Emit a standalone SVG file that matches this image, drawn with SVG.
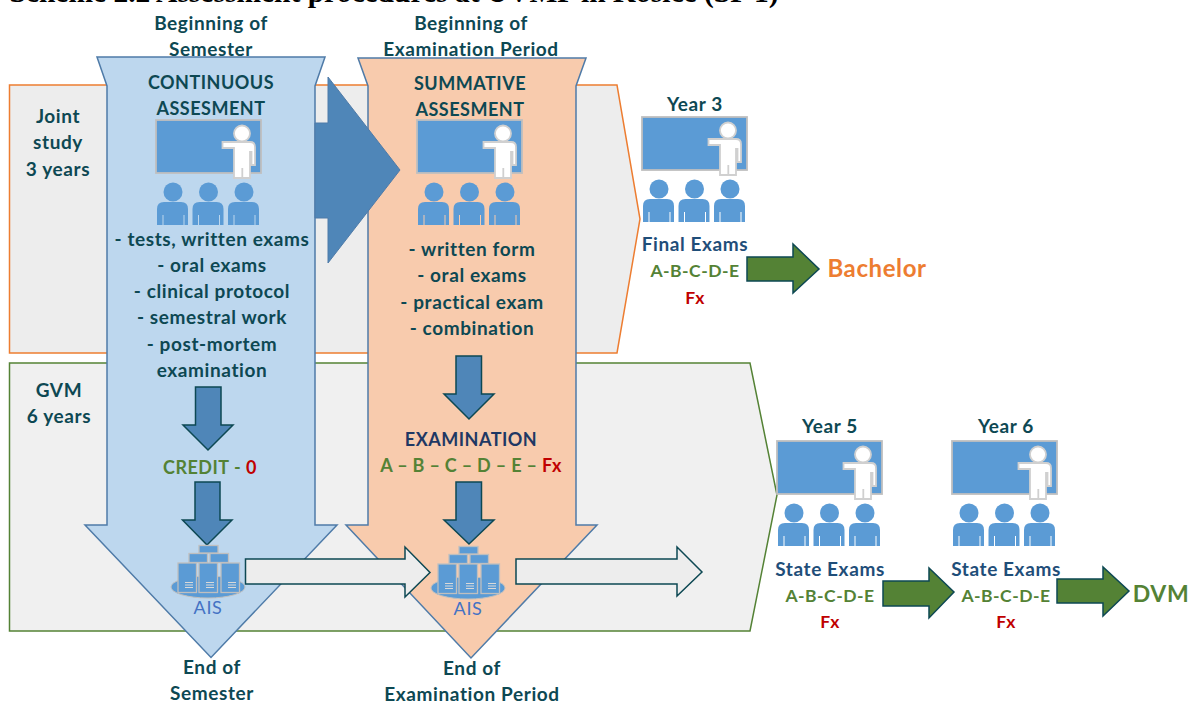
<svg xmlns="http://www.w3.org/2000/svg" xmlns:xlink="http://www.w3.org/1999/xlink" width="1193" height="704" viewBox="0 0 1193 704">
<style>
text{font-family:"Lato","Liberation Sans",sans-serif;font-weight:700;font-size:19px;text-anchor:middle;fill:#0d4853;letter-spacing:.6px}
.navy{fill:#1f4e79}.deep{fill:#1f3864}.green{fill:#548235}.red{fill:#c00000}
.sm{font-size:17.5px;letter-spacing:.5px}
.up{font-size:18px;letter-spacing:.5px}
.ais{font-weight:400;fill:#4472c4;font-size:18px}
.down{fill:#4f86b8;stroke:#0d4853;stroke-width:1.5}
.go{fill:#548235;stroke:#0d4853;stroke-width:1.5}
.white{fill:#ededed;stroke:#0d4853;stroke-width:1.5}
.srv{fill:#5b9bd5;stroke:#bfbfbf;stroke-width:1.3}
.bars{stroke:#d9d9d9;stroke-width:1}
</style>
<defs>
<g id="teach">
<rect x="156" y="120" width="105" height="53" fill="#5b9bd5" stroke="#bfbfbf" stroke-width="1.8"/>
<circle cx="242" cy="133.500" r="8" fill="#fff" stroke="#d0d0d0" stroke-width="1.8"/>
<path d="M222.500,142 H250 Q255,142 255,147 V165 H251.500 V152 H250 V178 H234 V148 H222.500 Z" fill="#fff" stroke="#d0d0d0" stroke-width="1.8"/>
<path d="M242.300,168 V178" stroke="#d0d0d0" stroke-width="1.8"/>
<g fill="#5b9bd5">
<g id="stu"><circle cx="173" cy="192" r="9.500"/><path d="M157,225 V209 Q157,202 164,202 H181 Q188,202 188,209 V225 H184.500 V215 H183.500 V225 H163.500 V215 H162.500 V225 Z"/></g>
<use xlink:href="#stu" href="#stu" x="35.500"/>
<use xlink:href="#stu" href="#stu" x="71"/>
</g>
</g>
<g id="server">
<ellipse cx="208" cy="587" rx="37" ry="11" fill="#5b9bd5" stroke="#bfbfbf"/>
<rect x="199" y="545.500" width="19" height="7.500" class="srv"/>
<rect x="189" y="553.500" width="18.500" height="9" class="srv"/>
<rect x="210" y="553.500" width="18.500" height="9" class="srv"/>
<g id="box"><rect x="178" y="563" width="18.500" height="29.500" class="srv"/><path d="M185,582.500H193M185,585H193M185,587.500H193" class="bars"/></g>
<use xlink:href="#box" href="#box" x="21"/>
<use xlink:href="#box" href="#box" x="43"/>
</g>
</defs>

<text x="394" y="2" style="font-family:'Liberation Serif',serif;font-size:29.500px;letter-spacing:0;fill:#000">Scheme 2.2 Assessment procedures at UVMP in Košice (SP 1)</text>

<g id="joint-study">
<path d="M9.500,85 H617 L640,219 L617,353 H9.500 Z" fill="#ededed" stroke="#ed7d31" stroke-width="1.500"/>
<text x="58" y="123">Joint</text><text x="58" y="149">study</text><text x="58" y="176">3 years</text>
</g>
<g id="gvm">
<path d="M9.500,363 H750 L777,495 L750,631 H9.500 Z" fill="#f0f0f0" stroke="#548235" stroke-width="1.500"/>
<text x="59" y="397">GVM</text><text x="59" y="423">6 years</text>
</g>

<g id="continuous">
<path d="M97,57 H325 L315,86 V525 H337 L211,657.500 L85,525 H107 V86 Z" fill="#bdd7ee" stroke="#4f7ba8" stroke-width="1.500"/>
<text x="211" y="30">Beginning of</text><text x="211" y="56">Semester</text>
<text x="211" y="89" class="up">CONTINUOUS</text><text x="211" y="115" class="up">ASSESMENT</text>
<use xlink:href="#teach" href="#teach"/>
<text x="212" y="246">- tests, written exams</text>
<text x="212" y="272">- oral exams</text>
<text x="212" y="298">- clinical protocol</text>
<text x="212" y="324">- semestral work</text>
<text x="212" y="351">- post-mortem</text>
<text x="212" y="377">examination</text>
<text x="210" y="474" class="up"><tspan class="green">CREDIT - </tspan><tspan class="red">0</tspan></text>
<text x="212" y="674">End of</text><text x="212" y="700">Semester</text>
</g>

<g id="summative">
<path d="M358,58 H586 L576,86 V525 H597 L471,658 L346,525 H368 V86 Z" fill="#f8cbad" stroke="#4f7ba8" stroke-width="1.500"/>
<text x="471" y="30">Beginning of</text><text x="471" y="56">Examination Period</text>
<text x="470" y="90" class="up">SUMMATIVE</text><text x="470" y="116" class="up">ASSESMENT</text>
<use xlink:href="#teach" href="#teach" x="261"/>
<text x="472" y="256">- written form</text>
<text x="472" y="282">- oral exams</text>
<text x="472" y="309">- practical exam</text>
<text x="472" y="335">- combination</text>
<text x="471" y="446" class="deep up">EXAMINATION</text>
<text x="471" y="472" class="up" style="letter-spacing:.3px"><tspan class="green">A – B – C – D – E – </tspan><tspan class="red">Fx</tspan></text>
<text x="472" y="675">End of</text><text x="472" y="701">Examination Period</text>
</g>

<g id="connectors">
<path d="M315,123 H328 V77 L400,170 L328,263 V218 H315 Z" fill="#4f86b8" stroke="#4f7ba8"/>
<path class="down" d="M195.500,387 H221 V425 H233 L208,450 L183,425 H195.500 Z"/>
<path class="down" d="M195,482 H220 V520 H232 L207,545 L182.500,520 H195 Z"/>
<path class="down" d="M456,356 H481.500 V394 H494 L469,419 L444,394 H456 Z"/>
<path class="down" d="M456,482 H481.500 V520 H494 L469,544 L444,520 H456 Z"/>
<path class="white" d="M245.500,559 H405 V547 L430,572.500 L405,597 V584 H245.500 Z"/>
<path class="white" d="M516,559 H677 V547 L702,572 L677,596 V584 H516 Z"/>
<path class="go" d="M747,257 H793 V244 L819,269 L793,293 V281 H747 Z"/>
<path class="go" d="M883,581 H929 V568 L954,592 L929,618 V606 H883 Z"/>
<path class="go" d="M1057,579 H1103 V567 L1129,591 L1103,616 V603 H1057 Z"/>
</g>

<g id="ais-1"><use xlink:href="#server" href="#server"/><text x="208" y="614" class="ais">AIS</text></g>
<g id="ais-2"><use xlink:href="#server" href="#server" x="260" y="1"/><text x="468" y="615" class="ais">AIS</text></g>

<g id="year3">
<text x="695" y="111">Year 3</text>
<use xlink:href="#teach" href="#teach" x="486" y="-3"/>
<text x="695" y="251" class="navy">Final Exams</text>
<text x="695" y="277" class="green sm">A-B-C-D-E</text>
<text x="695" y="304" class="red sm">Fx</text>
</g>
<g id="bachelor"><text x="877" y="277" style="font-size:24px;fill:#ed7d31">Bachelor</text></g>
<g id="year5">
<text x="830" y="433">Year 5</text>
<use xlink:href="#teach" href="#teach" x="621" y="321"/>
<text x="830" y="576" class="navy">State Exams</text>
<text x="830" y="602" class="green sm">A-B-C-D-E</text>
<text x="830" y="628" class="red sm">Fx</text>
</g>
<g id="year6">
<text x="1006" y="433">Year 6</text>
<use xlink:href="#teach" href="#teach" x="796" y="321"/>
<text x="1006" y="576" class="navy">State Exams</text>
<text x="1006" y="602" class="green sm">A-B-C-D-E</text>
<text x="1006" y="628" class="red sm">Fx</text>
</g>
<g id="dvm"><text x="1161" y="602" style="font-size:23px;fill:#548235">DVM</text></g>
</svg>
